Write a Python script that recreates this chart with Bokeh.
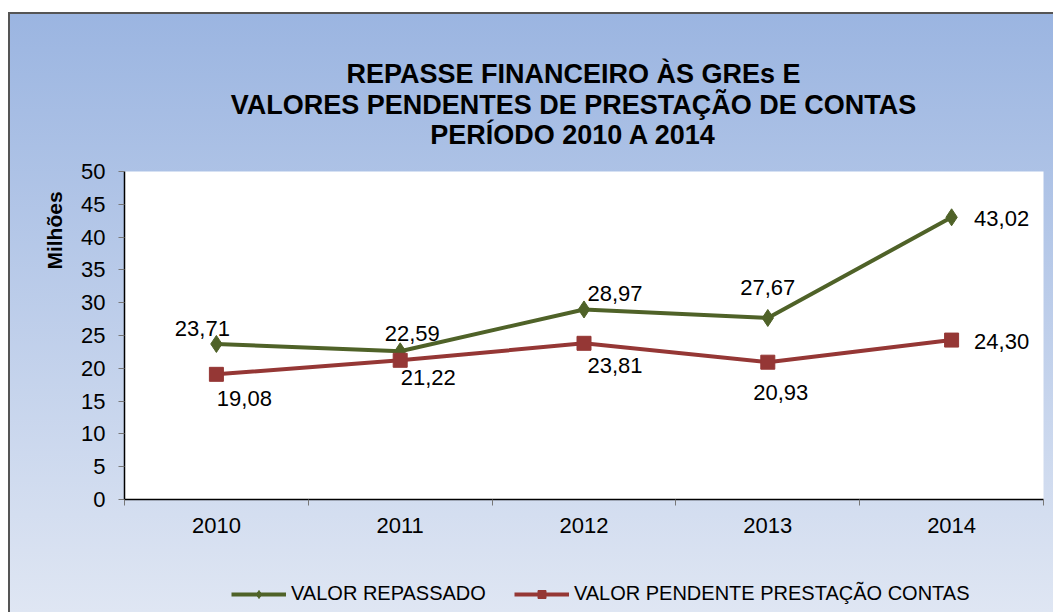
from bokeh.plotting import figure
from bokeh.layouts import column
from bokeh.models import (Range1d, FixedTicker, Legend, LegendItem,
                          ColumnDataSource)
from bokeh.core.properties import value
from bokeh.embed import file_html
from bokeh.resources import INLINE

# ---- data ----
years = ["2010", "2011", "2012", "2013", "2014"]
valor_repassado = [23.71, 22.59, 28.97, 27.67, 43.02]
valor_pendente = [19.08, 21.22, 23.81, 20.93, 24.30]
y_ticks = [0, 5, 10, 15, 20, 25, 30, 35, 40, 45, 50]
title_lines = ["REPASSE FINANCEIRO ÀS GREs E",
               "VALORES PENDENTES DE PRESTAÇÃO DE CONTAS",
               "PERÍODO 2010 A 2014"]
series_names = ["VALOR REPASSADO", "VALOR PENDENTE PRESTAÇÃO CONTAS"]
y_label = "Milhões"

# label offsets (screen px) for data labels
rep_dx = [-14, 12, 31, 0, 50]
rep_dy = [-15, -18, -16, -30, 1]
pen_dx = [28, 28, 31, 13, 50]
pen_dy = [24, 17, 22, 30, 1]

FONT = "Liberation Sans"
GREEN = "#4F6228"
RED = "#953735"
W = 1043
LEFT = 114
RIGHT = 10
TOP = 16

xs = [i + 0.5 for i in range(len(years))]


def strip(h, yr):
    # the frame of a strip is aligned with the main chart frame by the column
    f = figure(width=W, height=h, output_backend="svg", toolbar_location=None,
               x_range=Range1d(LEFT, W - RIGHT), y_range=yr,
               x_axis_location=None, y_axis_location=None, min_border=0)
    f.border_fill_alpha = 0
    f.background_fill_alpha = 0
    f.outline_line_color = None
    f.grid.visible = False
    f.title.visible = False
    return f


# ---- title strip ----
t = strip(157 - TOP, Range1d(157 - TOP, 0))
t.text(x=[563] * 3, y=[59.5, 90, 120], text=title_lines,
       text_align="center", text_baseline="middle",
       text_font=value(FONT), text_font_size="27px",
       text_font_style="bold", text_color="black")

# ---- main chart ----
p = figure(width=W, height=368 + TOP, output_backend="svg", toolbar_location=None,
           x_range=Range1d(0, 5), y_range=Range1d(0, 50),
           min_border_left=LEFT, min_border_right=RIGHT,
           min_border_top=TOP, min_border_bottom=40)
p.border_fill_alpha = 0
p.background_fill_color = "white"
p.outline_line_color = None
p.grid.visible = False
p.title.visible = False

xa = p.xaxis[0]
xa.ticker = FixedTicker(ticks=xs, minor_ticks=[0, 1, 2, 3, 4, 5])
xa.major_label_overrides = {x: y for x, y in zip(xs, years)}
xa.major_tick_out = 0
xa.major_tick_in = 0
xa.minor_tick_out = 6
xa.minor_tick_in = 0
xa.minor_tick_line_color = "#777777"
xa.axis_line_color = "black"
xa.axis_line_width = 1.5
xa.major_label_text_font = FONT
xa.major_label_text_font_size = "22px"
xa.major_label_text_color = "black"
xa.major_label_standoff = 12

ya = p.yaxis[0]
ya.ticker = FixedTicker(ticks=y_ticks, minor_ticks=[])
ya.major_tick_out = 6
ya.major_tick_in = 0
ya.major_tick_line_color = "#777777"
ya.axis_line_color = "black"
ya.axis_line_width = 1.5
ya.major_label_text_font = FONT
ya.major_label_text_font_size = "22px"
ya.major_label_text_color = "black"
ya.major_label_standoff = 13
ya.axis_label = "\u00a0" * 36 + y_label
ya.axis_label_text_font = FONT
ya.axis_label_text_font_size = "21px"
ya.axis_label_text_font_style = "bold"
ya.axis_label_text_color = "black"
ya.axis_label_standoff = 12

src_r = ColumnDataSource(dict(x=xs, y=valor_repassado,
                              lbl=[f"{v:.2f}".replace(".", ",") for v in valor_repassado],
                              dx=rep_dx, dy=rep_dy))
src_p = ColumnDataSource(dict(x=xs, y=valor_pendente,
                              lbl=[f"{v:.2f}".replace(".", ",") for v in valor_pendente],
                              dx=pen_dx, dy=pen_dy))

line_kw_r = dict(line_color=GREEN, line_width=4)
mark_kw_r = dict(marker="diamond", size=17, fill_color=GREEN, line_color=GREEN)
line_kw_p = dict(line_color=RED, line_width=4)
mark_kw_p = dict(marker="square", size=14, fill_color=RED, line_color=RED)

p.line("x", "y", source=src_r, **line_kw_r)
p.scatter("x", "y", source=src_r, **mark_kw_r)
p.line("x", "y", source=src_p, **line_kw_p)
p.scatter("x", "y", source=src_p, **mark_kw_p)

for src in (src_r, src_p):
    p.text("x", "y", text="lbl", source=src, x_offset="dx", y_offset="dy",
           text_align="center", text_baseline="middle",
           text_font=value(FONT), text_font_size="22px", text_color="black")

# ---- legend strip ----
q = strip(73, Range1d(0, 73))
off = dict(x=[-100], y=[-100])
qlr = q.line(**off, **line_kw_r)
qmr = q.scatter(**off, **mark_kw_r)
qlp = q.line(**off, **line_kw_p)
qmp = q.scatter(**off, **mark_kw_p)
legend = Legend(items=[LegendItem(label=series_names[0], renderers=[qlr, qmr]),
                       LegendItem(label=series_names[1], renderers=[qlp, qmp])],
                orientation="horizontal", location=(102, 2),
                background_fill_alpha=0, border_line_alpha=0,
                label_text_font=FONT, label_text_font_size="20px",
                label_text_color="black", glyph_width=55, glyph_height=20,
                spacing=28, label_standoff=5, padding=5, margin=0)
q.add_layout(legend)

lay = column(t, p, q, spacing=0, styles={
    "background": "linear-gradient(to bottom, #9bb5e1 0%, #dfe6f3 100%)",
    "border-left": "2px solid #555555",
    "border-top": "2px solid #555555",
    "margin": "12px 0 0 8px",
})

open("out.html", "w").write(file_html(lay, INLINE))
